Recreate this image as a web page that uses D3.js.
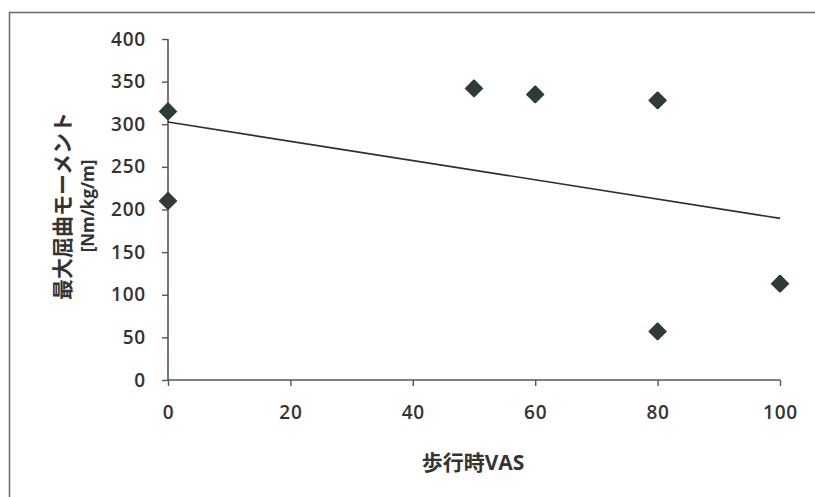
<!DOCTYPE html>
<html>
<head>
<meta charset="utf-8">
<script src="https://cdn.jsdelivr.net/npm/d3@7"></script>
<style>
  html, body { margin: 0; padding: 0; background: #fff; }
  svg { display: block; }
  text { font-family: "Open Sans", "Noto Sans CJK JP", sans-serif; fill: #333; }
</style>
</head>
<body>
<svg id="chart" width="815" height="497"></svg>
<script>
// Walking VAS vs. peak flexion moment
const vasValues = [0, 0, 50, 60, 80, 80, 100];
const momentValues = [315, 210, 342, 335, 328, 57, 113];
const xTicks = [0, 20, 40, 60, 80, 100];
const yTicks = [0, 50, 100, 150, 200, 250, 300, 350, 400];
const xTitle = "歩行時VAS";
const yTitleLines = ["最大屈曲モーメント", "[Nm/kg/m]"];

const svg = d3.select("#chart");
const W = 815, H = 497;

// frame
svg.append("rect")
  .attr("x", 9.5).attr("y", 12.5)
  .attr("width", W + 10).attr("height", H + 10)
  .attr("fill", "none").attr("stroke", "#6a6a6a").attr("stroke-width", 1.5);

const plot = { left: 168, right: 780, top: 39, bottom: 380 };
const x = d3.scaleLinear().domain([0, 100]).range([plot.left, plot.right]);
const y = d3.scaleLinear().domain([0, 400]).range([plot.bottom, plot.top]);

const axisColor = "#4d5a55";

// y axis
const gy = svg.append("g")
  .attr("transform", `translate(${plot.left},0)`)
  .call(d3.axisLeft(y).tickValues(yTicks).tickSize(6).tickPadding(16).tickFormat(d3.format("d")));
// x axis
const gx = svg.append("g")
  .attr("transform", `translate(0,${plot.bottom})`)
  .call(d3.axisBottom(x).tickValues(xTicks).tickSize(6).tickPadding(20).tickFormat(d3.format("d")));

[gx, gy].forEach(g => {
  g.select(".domain").attr("stroke", axisColor).attr("stroke-width", 1.6);
  g.selectAll(".tick line").attr("stroke", axisColor).attr("stroke-width", 1.4);
  g.selectAll(".tick text")
    .attr("fill", "#333")
    .style("font-size", "19px")
    .style("letter-spacing", "0.8px")
    .style("font-weight", "600")
    .style("font-family", "'Open Sans', sans-serif");
});
// plain domain lines without end caps
gx.select(".domain").attr("d", `M${plot.left},0H${plot.right}`);
gy.select(".domain").attr("d", `M0,${plot.bottom}V${plot.top}`);

// least-squares trend line
const n = vasValues.length;
const mx = d3.mean(vasValues), my = d3.mean(momentValues);
let sxy = 0, sxx = 0;
for (let i = 0; i < n; i++) {
  sxy += (vasValues[i] - mx) * (momentValues[i] - my);
  sxx += (vasValues[i] - mx) ** 2;
}
const slope = sxy / sxx, intercept = my - slope * mx;
const trend = [0, 100].map(v => [v, intercept + slope * v]);
svg.append("path")
  .attr("d", d3.line().x(d => x(d[0])).y(d => y(d[1]))(trend))
  .attr("fill", "none").attr("stroke", "#2e2e2e").attr("stroke-width", 1.6);

// data points as diamonds
const diamond = d3.symbol().type(d3.symbolDiamond).size(100);
svg.append("g").selectAll("path")
  .data(vasValues.map((v, i) => [v, momentValues[i]]))
  .join("path")
  .attr("d", diamond)
  .attr("transform", d => `translate(${x(d[0])},${y(d[1])}) scale(1.55,0.9)`)
  .attr("fill", "#2f3b37")
  .attr("stroke", "#2f3b37").attr("stroke-width", 1.2).attr("stroke-linejoin", "round");

// axis titles
svg.append("text")
  .attr("x", (plot.left + plot.right) / 2 - 1).attr("y", 470)
  .attr("text-anchor", "middle")
  .style("font-size", "21px").style("font-weight", "700")
  .style("font-family", "'Open Sans', 'Noto Sans CJK JP', sans-serif")
  .text(xTitle);

const yt = svg.append("text")
  .attr("transform", "translate(0,206) rotate(-90)")
  .attr("text-anchor", "middle")
  .style("font-weight", "700")
  .style("font-family", "'Open Sans', 'Noto Sans CJK JP', sans-serif");
yt.append("tspan").attr("x", 0).attr("y", 70).style("font-size", "21px").text(yTitleLines[0]);
yt.append("tspan").attr("x", 0).attr("y", 94).style("font-size", "17px").text(yTitleLines[1]);
</script>
</body>
</html>
